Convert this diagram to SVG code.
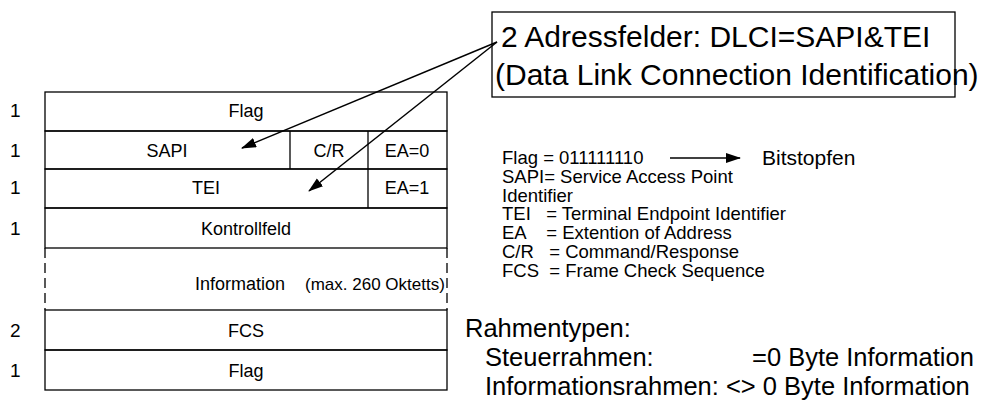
<svg xmlns="http://www.w3.org/2000/svg" width="985" height="406" viewBox="0 0 985 406">
<style>
text{font-family:"Liberation Sans",Arial,sans-serif;fill:#000}
.c{font-size:18px;text-anchor:middle}
.s{font-size:18px}
.n{font-size:19px}
.l{font-size:18.5px}
.r{font-size:25.5px}
.t{font-size:30px}
.ln{stroke:#000;stroke-width:1.3;fill:none}
.d{stroke:#000;stroke-width:1.3;fill:none;stroke-dasharray:10,5}
.ar{stroke:#000;stroke-width:1.5;fill:none;marker-end:url(#ah)}
</style>
<defs>
<marker id="ah" markerWidth="16" markerHeight="12" refX="14" refY="5" orient="auto" markerUnits="userSpaceOnUse">
<path d="M0,0 L15,5 L0,10 Z" fill="#000"/>
</marker>
</defs>
<rect width="985" height="406" fill="#fff"/>
<g id="frame">
<g id="row-flag1"><rect x="45" y="92" width="402" height="39" class="ln"/><text class="c" x="246" y="117">Flag</text><text class="n" x="10" y="117">1</text></g>
<g id="row-sapi"><rect x="45" y="131" width="402" height="38" class="ln"/><line x1="290" y1="131" x2="290" y2="169" class="ln"/><line x1="368" y1="131" x2="368" y2="169" class="ln"/><text class="c" x="167" y="157">SAPI</text><text class="c" x="329" y="157">C/R</text><text class="c" x="407" y="157">EA=0</text><text class="n" x="10" y="157">1</text></g>
<g id="row-tei"><rect x="45" y="169" width="402" height="39" class="ln"/><line x1="368" y1="169" x2="368" y2="208" class="ln"/><text class="c" x="206" y="194">TEI</text><text class="c" x="407" y="194">EA=1</text><text class="n" x="10" y="194">1</text></g>
<g id="row-kontroll"><rect x="45" y="208" width="402" height="40" class="ln"/><text class="c" x="246" y="235">Kontrollfeld</text><text class="n" x="10" y="235">1</text></g>
<g id="row-info"><line x1="45" y1="248" x2="45" y2="310" class="d"/><line x1="447" y1="248" x2="447" y2="310" class="d"/><text class="s" x="195" y="290">Information</text><text style="font-size:17px" x="305" y="290">(max. 260 Oktetts)</text></g>
<g id="row-fcs"><rect x="45" y="310" width="402" height="40" class="ln"/><text class="c" x="246" y="337">FCS</text><text class="n" x="10" y="337">2</text></g>
<g id="row-flag2"><rect x="45" y="350" width="402" height="40" class="ln"/><text class="c" x="246" y="377">Flag</text><text class="n" x="10" y="377">1</text></g>
</g>
<g id="dlci-box"><rect x="492" y="12" width="463" height="85" class="ln"/><text class="t" x="501" y="47">2 Adressfelder: DLCI=SAPI&amp;TEI</text><text class="t" x="495" y="85">(Data Link Connection Identification)</text></g>
<g id="legend">
<text class="l" x="502" y="164">Flag = 011111110</text>
<text style="font-size:21px" x="762" y="165">Bitstopfen</text>
<text class="l" x="502" y="183">SAPI= Service Access Point</text>
<text class="l" x="502" y="202">Identifier</text>
<text class="l" x="502" y="220" xml:space="preserve">TEI   = Terminal Endpoint Identifier</text>
<text class="l" x="502" y="239" xml:space="preserve">EA    = Extention of Address</text>
<text class="l" x="502" y="258" xml:space="preserve">C/R   = Command/Response</text>
<text class="l" x="502" y="277" xml:space="preserve">FCS  = Frame Check Sequence</text>
</g>
<g id="rahmentypen">
<text class="r" x="465" y="337">Rahmentypen:</text>
<text class="r" x="485" y="366">Steuerrahmen:</text>
<text class="r" x="752" y="366">=0 Byte Information</text>
<text class="r" x="485" y="395">Informationsrahmen: &lt;&gt; 0 Byte Information</text>
</g>
<g id="connectors">
<line x1="497" y1="42" x2="242" y2="148" class="ar"/>
<line x1="497" y1="42" x2="309" y2="191" class="ar"/>
<line x1="670" y1="158" x2="740" y2="158" class="ar"/>
</g>
</svg>
